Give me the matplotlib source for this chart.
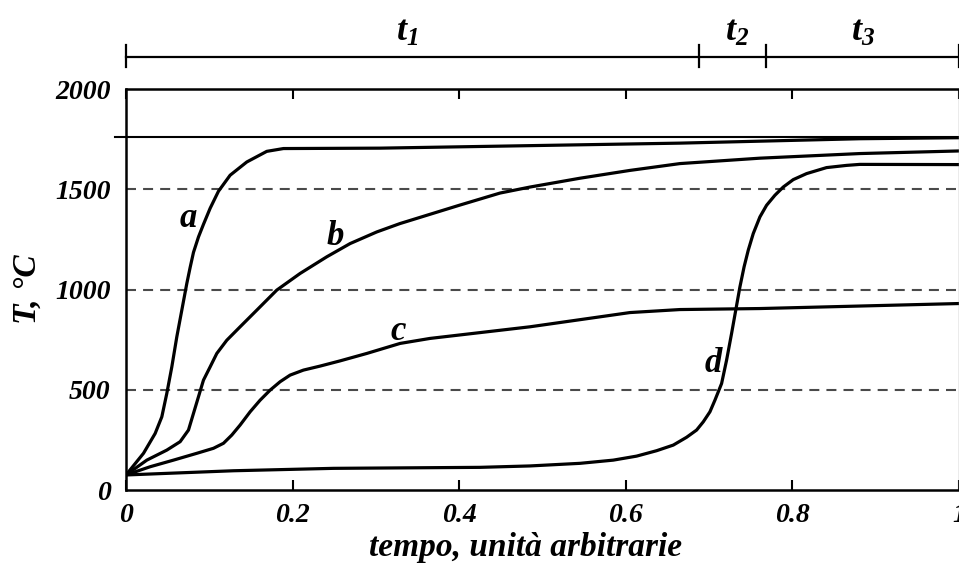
import matplotlib
matplotlib.use("Agg")
import matplotlib.pyplot as plt

# ── data ────────────────────────────────────────────────────
a_x = [0.0, 0.021, 0.035, 0.043, 0.049, 0.055, 0.061, 0.067, 0.073, 0.077,
       0.081, 0.087, 0.093, 0.101, 0.111, 0.125, 0.145, 0.169, 0.189, 0.305,
       0.449, 0.665, 0.881, 1.0]
a_T = [75, 183, 282, 365, 482, 614, 764, 897, 1030, 1110,
       1185, 1262, 1325, 1405, 1490, 1570, 1636, 1689, 1703, 1705,
       1715, 1730, 1752, 1757]

b_x = [0.0, 0.025, 0.049, 0.065, 0.075, 0.081, 0.087, 0.093, 0.101, 0.109,
       0.121, 0.137, 0.157, 0.181, 0.209, 0.241, 0.269, 0.301, 0.329, 0.40,
       0.449, 0.485, 0.545, 0.605, 0.665, 0.761, 0.881, 1.0]
b_T = [75, 149, 199, 241, 299, 382, 465, 548, 614, 681,
       747, 814, 897, 997, 1080, 1163, 1229, 1287, 1329, 1420,
       1481, 1511, 1555, 1594, 1628, 1655, 1678, 1691]

c_x = [0.0, 0.029, 0.057, 0.085, 0.105, 0.117, 0.127, 0.137, 0.149, 0.161,
       0.173, 0.185, 0.197, 0.213, 0.233, 0.257, 0.289, 0.329, 0.365, 0.485,
       0.605, 0.665, 0.761, 1.0]
c_T = [75, 116, 149, 183, 208, 233, 274, 324, 390, 448,
       498, 540, 573, 598, 618, 644, 681, 731, 756, 814,
       885, 900, 905, 930]

d_x = [0.0, 0.129, 0.249, 0.425, 0.485, 0.545, 0.585, 0.613, 0.637, 0.657,
       0.673, 0.685, 0.693, 0.701, 0.707, 0.715, 0.721, 0.727, 0.732, 0.737,
       0.742, 0.747, 0.753, 0.761, 0.769, 0.779, 0.789, 0.801, 0.817, 0.841,
       0.865, 0.881, 1.0]
d_T = [75, 96, 108, 113, 120, 133, 149, 169, 196, 224,
       263, 299, 340, 390, 448, 531, 648, 781, 897, 1013,
       1113, 1196, 1279, 1362, 1420, 1470, 1511, 1548, 1578, 1608,
       1619, 1624, 1623]

curve_names = ["a", "b", "c", "d"]
label_x = [0.075, 0.251, 0.327, 0.705]
label_T = [1354, 1262, 790, 631]

dashed_T = [500, 1000, 1500]
melt_T = 1760

phase_edges = [0.0, 0.688, 0.768, 1.0]
phase_names = ["$t_1$", "$t_2$", "$t_3$"]
phase_label_x = [0.337, 0.733, 0.885]

xticks = [0, 0.2, 0.4, 0.6, 0.8, 1.0]
xtick_labels = ["0", "0.2", "0.4", "0.6", "0.8", "1"]
yticks = [0, 500, 1000, 1500, 2000]
ytick_labels = ["0", "500", "1000", "1500", "2000"]

# ── style ───────────────────────────────────────────────────
FONT = "Liberation Serif"
plt.rcParams["font.family"] = FONT
plt.rcParams["font.weight"] = "bold"
plt.rcParams["font.style"] = "italic"
plt.rcParams["axes.labelweight"] = "bold"
plt.rcParams["mathtext.fontset"] = "custom"
plt.rcParams["mathtext.it"] = "Liberation Serif:italic:bold"
plt.rcParams["mathtext.rm"] = "Liberation Serif:italic:bold"
plt.rcParams["mathtext.bf"] = "Liberation Serif:italic:bold"

fig = plt.figure(figsize=(9.59, 5.65), dpi=100)
ax = fig.add_axes([126 / 959, 1 - 490 / 565, 833 / 959, 401 / 565])

for T in dashed_T:
    ax.axhline(T, color="#4a4a4a", linestyle=(0, (4.8, 3.4)), linewidth=1.5)
ax.plot([-0.013, 1.0], [melt_T, melt_T], color="black", linewidth=1.5,
        clip_on=False)

for xs, ts in [(a_x, a_T), (b_x, b_T), (c_x, c_T), (d_x, d_T)]:
    ax.plot(xs, ts, color="black", linewidth=2.3, solid_joinstyle="round")

for name, x, T in zip(curve_names, label_x, label_T):
    ax.text(x, T, name, fontsize=25, fontweight="bold", ha="center",
            va="center")

# interval bar above the axes
bar_T = 2162
ax.plot([phase_edges[0], phase_edges[-1]], [bar_T, bar_T], color="black",
        linewidth=1.6, clip_on=False)
for e in phase_edges:
    ax.plot([e, e], [bar_T - 52, bar_T + 55], color="black", linewidth=1.6,
            clip_on=False)
for name, x in zip(phase_names, phase_label_x):
    ax.text(x, 2280, name, fontsize=26, ha="center", va="center")

ax.set_xlim(0, 1)
ax.set_ylim(0, 2000)
ax.set_xticks(xticks)
ax.set_xticklabels(xtick_labels, fontweight="bold")
ax.set_yticks(yticks)
ax.set_yticklabels(ytick_labels, fontweight="bold")
ax.tick_params(axis="x", direction="in", top=True, length=7, width=1.5,
               labelsize=20, pad=9)
ax.tick_params(axis="y", length=0, labelsize=20, pad=11)

for side in ["left", "bottom", "top"]:
    ax.spines[side].set_linewidth(1.8)
ax.spines["right"].set_linewidth(1.0)
ax.spines["right"].set_color("#999999")

ax.set_xlabel("tempo, unità arbitrarie", fontsize=24, fontweight="bold")
ax.xaxis.set_label_coords(0.48, -0.105)
ax.set_ylabel("T, °C", fontsize=24, fontweight="bold")
ax.yaxis.set_label_coords(-0.100, 0.5)

fig.savefig("out.png", dpi=100)
